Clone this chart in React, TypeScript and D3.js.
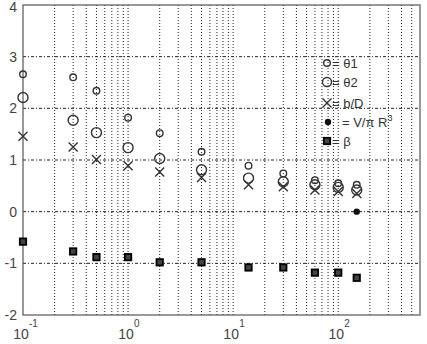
import React from "react";
import * as d3 from "d3";

// sample positions (log axis)
const xs = [0.1, 0.3, 0.5, 1, 2, 5, 14, 30, 60, 100, 150];
const theta1 = [2.66, 2.6, 2.34, 1.82, 1.52, 1.16, 0.89, 0.74, 0.61, 0.55, 0.52];
const theta2 = [2.21, 1.77, 1.53, 1.24, 1.03, 0.81, 0.65, 0.58, 0.52, 0.47, 0.42];
const bOverD = [1.46, 1.25, 1.01, 0.89, 0.77, 0.66, 0.52, 0.48, 0.42, 0.39, 0.35];
const beta = [-0.58, -0.77, -0.88, -0.88, -0.98, -0.98, -1.08, -1.08, -1.18, -1.18, -1.28];
const volX = [150];
const vol = [0.0];

const yTicks = [-2, -1, 0, 1, 2, 3, 4];
const xDecades = [-1, 0, 1, 2];

const W = 427, H = 344;
const left = 23, right = 420, top = 5, bottom = 315;

export default function App() {
    const x = d3.scaleLog().domain([0.1, 600]).range([left, right]);
    const y = d3.scaleLinear().domain([-2, 4]).range([bottom, top]);

    const minor: number[] = [];
    xDecades.forEach((e) => {
        for (let m = 2; m <= 9; m++) {
            const v = m * Math.pow(10, e);
            if (v < 600) minor.push(v);
        }
    });
    const major = xDecades.map((e) => Math.pow(10, e));

    const ink = "#333";

    return (
        <svg width={W} height={H} style={{ position: "absolute", left: 0, top: 0, background: "#fff" }}
            fontFamily="Liberation Sans, Arial, sans-serif">
            {/* grid */}
            {minor.concat(major.slice(1)).map((v, i) => (
                <line key={"gx" + i} x1={x(v)} x2={x(v)} y1={top} y2={bottom}
                    stroke="#222" strokeWidth={1} strokeDasharray="1,2" />
            ))}
            {yTicks.slice(1, -1).map((v) => (
                <line key={"gy" + v} x1={left} x2={right} y1={y(v)} y2={y(v)}
                    stroke="#222" strokeWidth={1} strokeDasharray="3,2,1,2" />
            ))}

            {/* axes box */}
            <rect x={left} y={top} width={right - left} height={bottom - top} fill="none" stroke="#555" strokeWidth={1.2} />

            {/* y tick labels */}
            {yTicks.map((v) => (
                <text key={"yl" + v} x={17} y={Math.max(y(v) + 5, 12)} textAnchor="end" fontSize={14} fill="#444">
                    {v < 0 ? "-" + Math.abs(v) : v}
                </text>
            ))}
            {/* x tick labels */}
            {xDecades.map((e) => (
                <g key={"xl" + e}>
                    <text x={x(Math.pow(10, e)) - 2} y={339} textAnchor="middle" fontSize={14} fill="#444">10</text>
                    <text x={x(Math.pow(10, e)) + 6} y={327} textAnchor="start" fontSize={10} fill="#444">
                        {e < 0 ? "-" + Math.abs(e) : e}
                    </text>
                </g>
            ))}

            {/* theta1: small circles */}
            {xs.map((v, i) => (
                <circle key={"t1" + i} cx={x(v)} cy={y(theta1[i])} r={3.3} fill="none" stroke={ink} strokeWidth={1.4} />
            ))}
            {/* theta2: large circles */}
            {xs.map((v, i) => (
                <circle key={"t2" + i} cx={x(v)} cy={y(theta2[i])} r={5} fill="none" stroke={ink} strokeWidth={1.4} />
            ))}
            {/* b/D: crosses */}
            {xs.map((v, i) => {
                const cx = x(v), cy = y(bOverD[i]), s = 4.5;
                return (
                    <path key={"bd" + i} d={`M${cx - s},${cy - s}L${cx + s},${cy + s}M${cx - s},${cy + s}L${cx + s},${cy - s}`}
                        stroke={ink} strokeWidth={1.4} fill="none" />
                );
            })}
            {/* V / pi R^3: dots */}
            {volX.map((v, i) => (
                <circle key={"v" + i} cx={x(v)} cy={y(vol[i])} r={3.2} fill="#111" />
            ))}
            {/* beta: asterisk squares */}
            {xs.map((v, i) => {
                const cx = x(v), cy = y(beta[i]);
                return (
                    <rect key={"b" + i} x={cx - 3.2} y={cy - 3.2} width={6.4} height={6.4} fill="#444" stroke="#000" strokeWidth={1.8} />
                );
            })}

            {/* legend */}
            <g fontSize={13} fill="#333">
                <circle cx={327} cy={63} r={3.3} fill="none" stroke={ink} strokeWidth={1.4} />
                <text x={332} y={68}>= θ1</text>
                <circle cx={327} cy={82} r={4.5} fill="none" stroke={ink} strokeWidth={1.4} />
                <text x={332} y={87}>= θ2</text>
                <path d="M322.5,98.5L331.5,107.5M322.5,107.5L331.5,98.5" stroke={ink} strokeWidth={1.4} fill="none" />
                <text x={332} y={108}>= b/D</text>
                <circle cx={328} cy={122} r={3.2} fill="#111" />
                <text x={342} y={127}>= V/π R<tspan dy={-6} fontSize={9}>3</tspan></text>
                <rect x={323.8} y={137.8} width={6.4} height={6.4} fill="#444" stroke="#000" strokeWidth={1.8} />
                <text x={332} y={146}>= β</text>
            </g>
        </svg>
    );
}
